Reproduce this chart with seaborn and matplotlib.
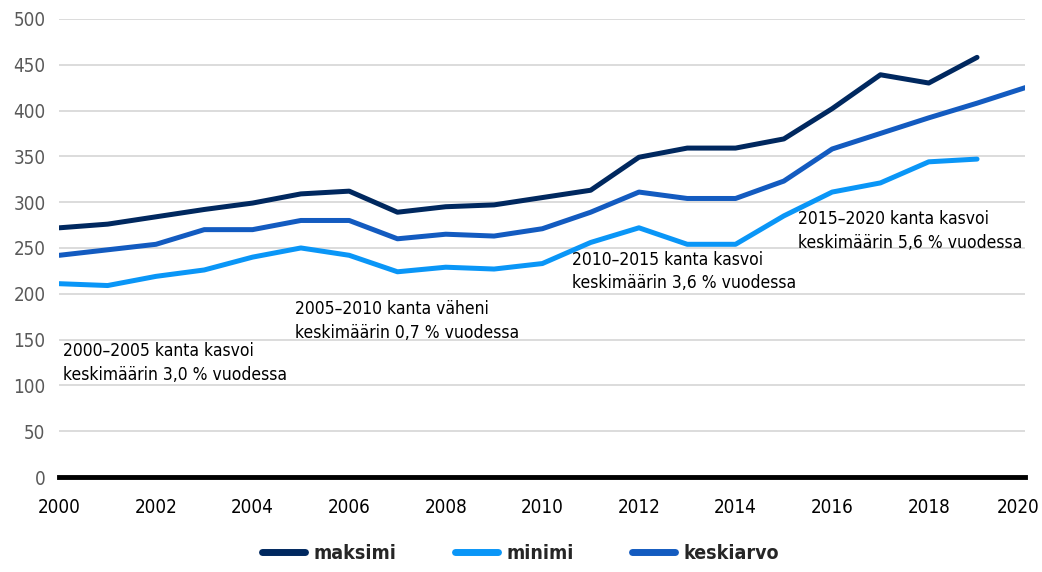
import numpy as np
import pandas as pd
import matplotlib
matplotlib.use("Agg")
import matplotlib.pyplot as plt
import matplotlib.transforms as mtransforms
import seaborn as sns

years = list(range(2000, 2021))
maksimi = [272, 276, 284, 292, 299, 309, 312, 289, 295, 297, 305, 313, 349, 359, 359, 369, 402, 439, 430, 458, np.nan]
minimi = [211, 209, 219, 226, 240, 250, 242, 224, 229, 227, 233, 256, 272, 254, 254, 285, 311, 321, 344, 347, np.nan]
keskiarvo = [242, 248, 254, 270, 270, 280, 280, 260, 265, 263, 271, 289, 311, 304, 304, 323, 358, 375, 392, 408, 425]

notes = [
    (2000.08, 147, "2000–2005 kanta kasvoi\nkeskimäärin 3,0 % vuodessa"),
    (2004.87, 193, "2005–2010 kanta väheni\nkeskimäärin 0,7 % vuodessa"),
    (2010.62, 247, "2010–2015 kanta kasvoi\nkeskimäärin 3,6 % vuodessa"),
    (2015.30, 291, "2015–2020 kanta kasvoi\nkeskimäärin 5,6 % vuodessa"),
]

df = pd.DataFrame({"vuosi": years, "maksimi": maksimi, "minimi": minimi, "keskiarvo": keskiarvo})
long = df.melt(id_vars="vuosi", var_name="sarja", value_name="arvo").dropna()

sns.set_style("white")
plt.rcParams["font.family"] = ["DejaVu Sans"]
plt.rcParams["font.stretch"] = "condensed"

colors = {"maksimi": "#00285f", "minimi": "#0a96f7", "keskiarvo": "#135bc0"}

fig, ax = plt.subplots(figsize=(10.42, 5.72), dpi=100)
fig.subplots_adjust(left=0.057, right=0.984, top=0.967, bottom=0.166)

sns.lineplot(data=long, x="vuosi", y="arvo", hue="sarja", palette=colors,
             linewidth=3.6, ax=ax, solid_capstyle="round", legend=False)

ax.set_xlim(2000, 2020)
ax.set_ylim(0, 500)
ax.set_xticks(range(2000, 2021, 2))
ax.set_yticks(range(0, 501, 50))
ax.yaxis.grid(True, color="#d9d9d9", linewidth=1.3)
ax.set_axisbelow(True)
for s in ["top", "right", "left"]:
    ax.spines[s].set_visible(False)
ax.spines["bottom"].set_linewidth(3.5)
ax.spines["bottom"].set_color("black")
ax.tick_params(axis="y", length=0, labelsize=13.5, labelcolor="#595959", pad=10)
ax.tick_params(axis="x", length=0, labelsize=13.5, labelcolor="black", pad=15)
ax.set_xlabel("")
ax.set_ylabel("")

# nudge the last year label so it stays inside the figure
last = ax.get_xticklabels()[-1]
last.set_transform(last.get_transform() + mtransforms.ScaledTranslation(-7 / 100, 0, fig.dpi_scale_trans))

for x, y, t in notes:
    ax.text(x, y, t, fontsize=12.5, va="top", ha="left", color="black", linespacing=1.4)

handles = [plt.Line2D([0], [0], color=colors[k], linewidth=5, solid_capstyle="round") for k in colors]
leg = fig.legend(handles, list(colors.keys()), loc="lower center", ncol=3, frameon=False,
                 bbox_to_anchor=(0.5, -0.014), handlelength=2.2, handletextpad=0.45,
                 columnspacing=3.0, prop={"size": 14, "weight": "bold"})

fig.savefig("out.png", dpi=100)
